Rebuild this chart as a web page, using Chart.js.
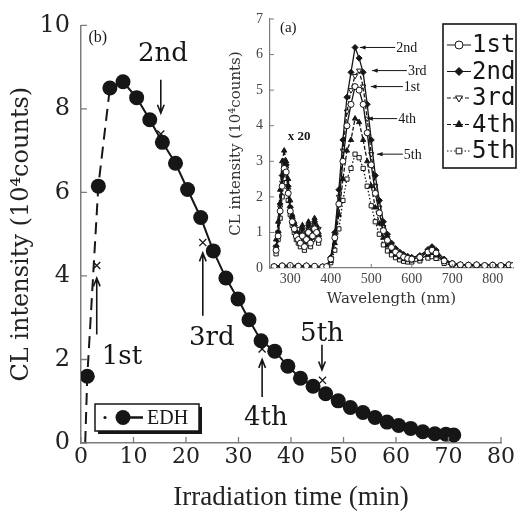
<!DOCTYPE html>
<html>
<head>
<meta charset="utf-8">
<script src="https://cdn.jsdelivr.net/npm/chart.js@4.4.0/dist/chart.umd.min.js"></script>
<style>
  html, body { margin: 0; padding: 0; background: #fff; }
  #wrap { position: relative; width: 521px; height: 514px; }
  #wrap canvas { position: absolute; left: 0; top: 0; }
</style>
</head>
<body>
<div id="wrap">
  <canvas id="main" width="521" height="514"></canvas>
  <canvas id="inset" width="521" height="514"></canvas>
</div>
<script>
// ---- (b) CL intensity versus irradiation time ----
const timeMin = [0.8, 1.2, 3.3, 5.5, 8.0, 10.6, 13.1, 15.5, 18.0, 20.3, 22.8, 25.2, 27.6, 29.9, 32.0, 34.3,
                 36.9, 39.4, 41.8, 44.2, 46.6, 49.0, 51.3, 53.7, 56.0, 58.3, 60.5, 62.8, 65.1, 67.4, 69.5, 71.0];
const edhIntensity = [0, 1.6, 6.15, 8.5, 8.65, 8.27, 7.74, 7.2, 6.7, 6.07, 5.4, 4.6, 3.95, 3.45, 2.95, 2.45,
                      2.2, 1.84, 1.55, 1.36, 1.18, 1.01, 0.85, 0.73, 0.61, 0.5, 0.42, 0.35, 0.27, 0.22, 0.21, 0.19];
const timeTicks = [0, 10, 20, 30, 40, 50, 60, 70, 80];
const intensityTicks = [0, 2, 4, 6, 8, 10];

// times at which the five spectra were taken
const spectrumNames = ['1st', '2nd', '3rd', '4th', '5th'];
const markTime = [3.0, 15.2, 23.2, 34.5, 46.0];
const markIntensity = [4.25, 7.4, 4.8, 2.25, 1.5];

// ---- (a) CL spectra ----
const wavelength = [260, 280, 300, 320, 340, 360, 380,
  390, 400, 410, 420, 430, 440, 450, 460, 470, 480, 490, 500, 510, 520, 530, 540, 550, 560, 570, 580, 590, 600,
  620, 640, 650, 660, 680, 700,
  720, 740, 760, 780, 800, 820, 840, 850];
const spec1st = [0.04, 0.06, 0.07, 0.05, 0.06, 0.05, 0.03,
  0.04, 0.25, 0.85, 1.8, 3.0, 4.0, 4.6, 5.1, 5.0, 4.6, 3.8, 2.9, 2.1, 1.55, 1.05, 0.78, 0.58, 0.45, 0.37, 0.31, 0.27, 0.25,
  0.3, 0.45, 0.5, 0.42, 0.2, 0.12,
  0.09, 0.08, 0.09, 0.07, 0.08, 0.07, 0.09, 0.07];
const spec2nd = [0.05, 0.07, 0.08, 0.06, 0.07, 0.05, 0.04,
  0.05, 0.3, 1.0, 2.2, 3.6, 4.8, 5.5, 6.2, 5.9, 5.5, 4.6, 3.6, 2.6, 1.9, 1.3, 0.95, 0.7, 0.55, 0.45, 0.38, 0.33, 0.3,
  0.35, 0.52, 0.6, 0.5, 0.25, 0.14,
  0.1, 0.09, 0.1, 0.08, 0.09, 0.08, 0.1, 0.08];
const spec3rd = [0.05, 0.06, 0.07, 0.06, 0.06, 0.04, 0.04,
  0.05, 0.27, 0.9, 2.0, 3.3, 4.4, 5.0, 5.4, 5.55, 5.1, 4.2, 3.2, 2.3, 1.7, 1.15, 0.85, 0.63, 0.5, 0.4, 0.34, 0.3, 0.28,
  0.33, 0.48, 0.55, 0.46, 0.22, 0.13,
  0.1, 0.08, 0.09, 0.08, 0.08, 0.07, 0.09, 0.08];
const spec4th = [0.04, 0.05, 0.06, 0.05, 0.05, 0.04, 0.03,
  0.04, 0.2, 0.7, 1.5, 2.5, 3.3, 3.6, 4.2, 4.1, 3.6, 3.0, 2.3, 1.7, 1.25, 0.85, 0.63, 0.48, 0.37, 0.3, 0.25, 0.22, 0.21,
  0.25, 0.37, 0.42, 0.35, 0.17, 0.1,
  0.08, 0.07, 0.08, 0.06, 0.07, 0.06, 0.08, 0.06];
const spec5th = [0.03, 0.04, 0.05, 0.04, 0.04, 0.03, 0.03,
  0.03, 0.15, 0.5, 1.1, 1.9, 2.5, 2.8, 3.2, 3.1, 2.8, 2.3, 1.75, 1.3, 0.95, 0.65, 0.48, 0.37, 0.29, 0.23, 0.19, 0.17, 0.17,
  0.2, 0.28, 0.32, 0.27, 0.13, 0.08,
  0.06, 0.05, 0.06, 0.05, 0.05, 0.05, 0.06, 0.05];

// UV band, magnified x 20
const uvWavelength = [265, 270, 275, 280, 285, 290, 295, 300, 305, 310, 315, 320, 325, 330, 335, 340, 345, 350, 355, 360, 365, 370];
const uv1st = [0.5, 0.9, 1.6, 2.3, 2.8, 2.7, 2.1, 1.6, 1.3, 1.1, 0.9, 0.8, 0.7, 0.9, 0.6, 0.8, 1.0, 0.7, 0.9, 1.1, 1.0, 0.8];
const uv2nd = [0.6, 1.0, 1.8, 2.6, 3.0, 2.9, 2.3, 1.7, 1.4, 1.2, 1.0, 0.9, 0.8, 1.1, 0.7, 0.9, 1.2, 0.8, 1.0, 1.3, 1.1, 0.9];
const uv3rd = [0.6, 1.0, 1.7, 2.4, 2.9, 2.8, 2.2, 1.7, 1.4, 1.2, 1.0, 1.1, 0.8, 1.0, 0.9, 0.8, 1.1, 1.2, 0.9, 1.2, 1.0, 1.1];
const uv4th = [0.8, 1.3, 2.2, 3.0, 3.3, 3.0, 2.5, 1.9, 1.5, 1.3, 1.1, 1.0, 0.9, 1.2, 0.6, 1.0, 1.3, 0.9, 1.1, 1.4, 1.2, 1.0];
const uv5th = [0.4, 0.8, 1.4, 2.0, 2.5, 2.4, 1.9, 1.5, 1.2, 1.0, 0.8, 0.7, 0.6, 0.8, 0.5, 0.7, 0.9, 0.6, 0.8, 1.0, 0.9, 0.7];
const wavelengthTicks = [300, 400, 500, 600, 700, 800];
const spectrumTicks = [0, 1, 2, 3, 4, 5, 6, 7];
const peakIntensity = [5.1, 6.2, 5.55, 4.2, 3.2];

const SERIF = '"Liberation Serif", "Times New Roman", serif';
const WIDE_SERIF = '"DejaVu Serif", "Liberation Serif", serif';
const INK = '#161616';
const AXIS = '#7c7c7c';
Chart.defaults.font.family = SERIF;

function arrowOpen(ctx, x1, y1, x2, y2, head) {
  const a = Math.atan2(y2 - y1, x2 - x1);
  ctx.beginPath();
  ctx.moveTo(x1, y1); ctx.lineTo(x2, y2);
  ctx.moveTo(x2 - head * Math.cos(a - 0.38), y2 - head * Math.sin(a - 0.38));
  ctx.lineTo(x2, y2);
  ctx.lineTo(x2 - head * Math.cos(a + 0.38), y2 - head * Math.sin(a + 0.38));
  ctx.stroke();
}
function arrowFilled(ctx, x1, y1, x2, y2, head) {
  const a = Math.atan2(y2 - y1, x2 - x1);
  ctx.beginPath(); ctx.moveTo(x1, y1); ctx.lineTo(x2, y2); ctx.stroke();
  ctx.beginPath();
  ctx.moveTo(x2, y2);
  ctx.lineTo(x2 - head * Math.cos(a - 0.35), y2 - head * Math.sin(a - 0.35));
  ctx.lineTo(x2 - head * Math.cos(a + 0.35), y2 - head * Math.sin(a + 0.35));
  ctx.closePath(); ctx.fill();
}

// ---------- main chart decorations: inward ticks, arrows, labels, legend ----------
const mainDecor = {
  id: 'mainDecor',
  afterDatasetsDraw(chart) {
    const { ctx, scales: { x, y } } = chart;
    const px = v => x.getPixelForValue(v), py = v => y.getPixelForValue(v);
    ctx.save();
    ctx.strokeStyle = AXIS; ctx.lineWidth = 1.3;
    ctx.beginPath();
    timeTicks.forEach(v => { ctx.moveTo(px(v), py(0)); ctx.lineTo(px(v), py(0) - 6); });
    intensityTicks.forEach(v => { ctx.moveTo(px(0), py(v)); ctx.lineTo(px(0) + 6, py(v)); });
    ctx.stroke();

    // arrows pointing at the spectrum times: [time, from, to]
    const arrows = [[3.0, 2.6, 3.95], [15.2, 8.7, 7.9], [23.2, 3.05, 4.55], [34.5, 1.1, 2.0], [45.9, 2.35, 1.75]];
    const labelAt = [[7.8, 2.05], [15.6, 9.3], [24.9, 2.5], [35.2, 0.6], [45.9, 2.6]];
    ctx.strokeStyle = INK; ctx.lineWidth = 1.6;
    arrows.forEach(a => arrowOpen(ctx, px(a[0]), py(a[1]), px(a[0]), py(a[2]), 9));
    ctx.fillStyle = INK;
    ctx.font = '26px ' + WIDE_SERIF;
    ctx.textAlign = 'center'; ctx.textBaseline = 'middle';
    spectrumNames.forEach((n, i) => ctx.fillText(n, px(labelAt[i][0]), py(labelAt[i][1])));

    ctx.font = '16px ' + SERIF;
    ctx.fillText('(b)', px(3.2), py(9.7));

    // legend box with shadow
    const bx = 95, by = 404, bw = 104, bh = 27;
    ctx.fillStyle = INK; ctx.fillRect(bx + 3, by + 3, bw, bh);
    ctx.fillStyle = '#fff'; ctx.fillRect(bx, by, bw, bh);
    ctx.strokeStyle = INK; ctx.lineWidth = 1.5; ctx.strokeRect(bx, by, bw, bh);
    const cy = by + bh / 2;
    ctx.fillStyle = INK;
    ctx.beginPath(); ctx.arc(bx + 10, cy, 1.6, 0, Math.PI * 2); ctx.fill();
    ctx.lineWidth = 2.5;
    ctx.beginPath(); ctx.moveTo(bx + 24, cy); ctx.lineTo(bx + 48, cy); ctx.stroke();
    ctx.beginPath(); ctx.arc(bx + 28, cy, 7.5, 0, Math.PI * 2); ctx.fill();
    ctx.font = '20px ' + SERIF; ctx.textAlign = 'left';
    ctx.fillText(chart.data.datasets[0].label, bx + 52, cy + 1);
    ctx.restore();
  }
};

new Chart(document.getElementById('main'), {
  type: 'line',
  data: {
    datasets: [
      {
        label: 'EDH',
        data: timeMin.map((t, i) => ({ x: t, y: edhIntensity[i] })),
        borderColor: INK, borderWidth: 2,
        pointRadius: timeMin.map((t, i) => (i === 0 ? 0 : 7.5)),
        pointBackgroundColor: INK, pointBorderColor: INK, pointBorderWidth: 0,
        segment: { borderDash: c => (c.p1DataIndex <= 3 ? [12, 7] : undefined) },
        tension: 0, order: 2
      },
      {
        label: 'spectra',
        data: markTime.map((t, i) => ({ x: t, y: markIntensity[i] })),
        showLine: false, pointStyle: 'crossRot', pointRadius: 5,
        pointBorderColor: INK, pointBorderWidth: 1.3, order: 1
      }
    ]
  },
  options: {
    responsive: false, animation: false, events: [],
    layout: { padding: { left: 0, top: 18, right: 20, bottom: 0 } },
    plugins: { legend: { display: false }, tooltip: { enabled: false } },
    scales: {
      x: {
        type: 'linear', min: 0, max: 80,
        afterBuildTicks: s => { s.ticks = timeTicks.map(v => ({ value: v })); },
        afterFit: s => { s.height = 71; },
        grid: { display: false, drawTicks: false },
        border: { display: true, color: AXIS, width: 1.5 },
        ticks: { color: '#222', font: { family: WIDE_SERIF, size: 22 }, padding: 1, maxRotation: 0, autoSkip: false },
        title: { display: true, text: 'Irradiation time (min)', color: '#222', font: { size: 27 }, padding: { top: 1, bottom: 0 } }
      },
      y: {
        type: 'linear', min: 0, max: 10,
        afterBuildTicks: s => { s.ticks = intensityTicks.map(v => ({ value: v })); },
        afterFit: s => { s.width = 81; },
        grid: { display: false, drawTicks: false },
        border: { display: true, color: AXIS, width: 1.5 },
        ticks: { color: '#222', font: { family: WIDE_SERIF, size: 24 }, padding: 11, autoSkip: false },
        title: { display: true, text: 'CL intensity (10⁴counts)', color: '#222', font: { family: WIDE_SERIF, size: 24 }, padding: { top: 7, bottom: 0 } }
      }
    }
  },
  plugins: [mainDecor]
});

// ---------- inset: spectra ----------
const specSeries = [spec1st, spec2nd, spec3rd, spec4th, spec5th];
const uvSeries = [uv1st, uv2nd, uv3rd, uv4th, uv5th];
const specStyle = [
  { pointStyle: 'circle', rotation: 0, fill: '#fff', dash: [] },
  { pointStyle: 'rectRot', rotation: 0, fill: INK, dash: [] },
  { pointStyle: 'triangle', rotation: 180, fill: '#fff', dash: [4, 2] },
  { pointStyle: 'triangle', rotation: 0, fill: INK, dash: [4, 2] },
  { pointStyle: 'rect', rotation: 0, fill: '#fff', dash: [1.5, 2] }
];
function specDataset(name, xs, ys, st) {
  return {
    label: name,
    data: xs.map((w, i) => ({ x: w, y: ys[i] })),
    borderColor: INK, borderWidth: 1.3, borderDash: st.dash,
    pointStyle: st.pointStyle, rotation: st.rotation, pointRadius: 3,
    pointBackgroundColor: st.fill, pointBorderColor: INK, pointBorderWidth: 1,
    tension: 0
  };
}
const insetSets = [];
spectrumNames.forEach((n, i) => {
  insetSets.push(specDataset(n, wavelength, specSeries[i], specStyle[i]));
  insetSets.push(specDataset(n + ' x20', uvWavelength, uvSeries[i], specStyle[i]));
});

const insetDecor = {
  id: 'insetDecor',
  afterDatasetsDraw(chart) {
    const { ctx, scales: { x, y } } = chart;
    const px = v => x.getPixelForValue(v), py = v => y.getPixelForValue(v);
    ctx.save();
    ctx.strokeStyle = AXIS; ctx.lineWidth = 1;
    ctx.beginPath();
    wavelengthTicks.forEach(v => { ctx.moveTo(px(v), py(0)); ctx.lineTo(px(v), py(0) - 4); });
    spectrumTicks.forEach(v => { ctx.moveTo(px(250), py(v)); ctx.lineTo(px(250) + 4, py(v)); });
    ctx.stroke();

    // peak arrows: [tip wavelength, tail wavelength]
    const peakArrows = [[499, 578], [472, 559], [502, 588], [490, 564], [514, 578]];
    ctx.strokeStyle = INK; ctx.fillStyle = INK; ctx.lineWidth = 1;
    ctx.font = '14px ' + SERIF; ctx.textAlign = 'left'; ctx.textBaseline = 'middle';
    peakArrows.forEach((a, i) => {
      const yy = py(peakIntensity[i]);
      arrowFilled(ctx, px(a[1]), yy, px(a[0]), yy, 6);
      ctx.fillText(spectrumNames[i], px(a[1]) + 1, yy + 1);
    });

    ctx.font = 'bold 13px ' + SERIF; ctx.textAlign = 'center';
    ctx.fillText('x 20', px(322), py(3.7));
    ctx.font = '15px ' + SERIF;
    ctx.fillText('(a)', px(295), py(6.75));

    // legend box
    const bx = 443, by = 24, bw = 73, bh = 144;
    ctx.fillStyle = '#fff'; ctx.fillRect(bx, by, bw, bh);
    ctx.strokeStyle = INK; ctx.lineWidth = 1.6; ctx.strokeRect(bx, by, bw, bh);
    ctx.font = '24px "DejaVu Sans Mono", monospace'; ctx.textAlign = 'left';
    spectrumNames.forEach((n, i) => {
      const st = specStyle[i];
      const cy = by + 21 + i * 26.5;
      ctx.strokeStyle = INK; ctx.lineWidth = 1; ctx.setLineDash(st.dash);
      ctx.beginPath(); ctx.moveTo(bx + 4, cy); ctx.lineTo(bx + 28, cy); ctx.stroke();
      ctx.setLineDash([]);
      ctx.fillStyle = st.fill;
      Chart.helpers.drawPoint(ctx, { pointStyle: st.pointStyle, rotation: st.rotation, radius: 4, borderWidth: 1 }, bx + 16, cy);
      ctx.fillStyle = INK;
      ctx.fillText(n, bx + 29, cy + 1);
    });
    ctx.restore();
  }
};

new Chart(document.getElementById('inset'), {
  type: 'line',
  data: { datasets: insetSets },
  options: {
    responsive: false, animation: false, events: [],
    layout: { padding: { left: 218, top: 19, right: 8, bottom: 206 } },
    plugins: { legend: { display: false }, tooltip: { enabled: false } },
    scales: {
      x: {
        type: 'linear', min: 250, max: 850,
        afterBuildTicks: s => { s.ticks = wavelengthTicks.map(v => ({ value: v })); },
        afterFit: s => { s.height = 40; },
        grid: { display: false, drawTicks: false },
        border: { display: true, color: AXIS, width: 1.2 },
        ticks: { color: '#444', font: { size: 14 }, padding: 3, maxRotation: 0, autoSkip: false },
        title: { display: true, text: 'Wavelength (nm)', color: '#333', font: { family: WIDE_SERIF, size: 15 }, padding: { top: 0, bottom: 0 } }
      },
      y: {
        type: 'linear', min: 0, max: 7,
        afterBuildTicks: s => { s.ticks = spectrumTicks.map(v => ({ value: v })); },
        afterFit: s => { s.width = 52; },
        grid: { display: false, drawTicks: false },
        border: { display: true, color: AXIS, width: 1.2 },
        ticks: { color: '#444', font: { size: 14 }, padding: 7, autoSkip: false },
        title: { display: true, text: 'CL intensity (10⁴counts)', color: '#333', font: { family: WIDE_SERIF, size: 15 }, padding: { top: 9, bottom: 0 } }
      }
    }
  },
  plugins: [insetDecor]
});
</script>
</body>
</html>
